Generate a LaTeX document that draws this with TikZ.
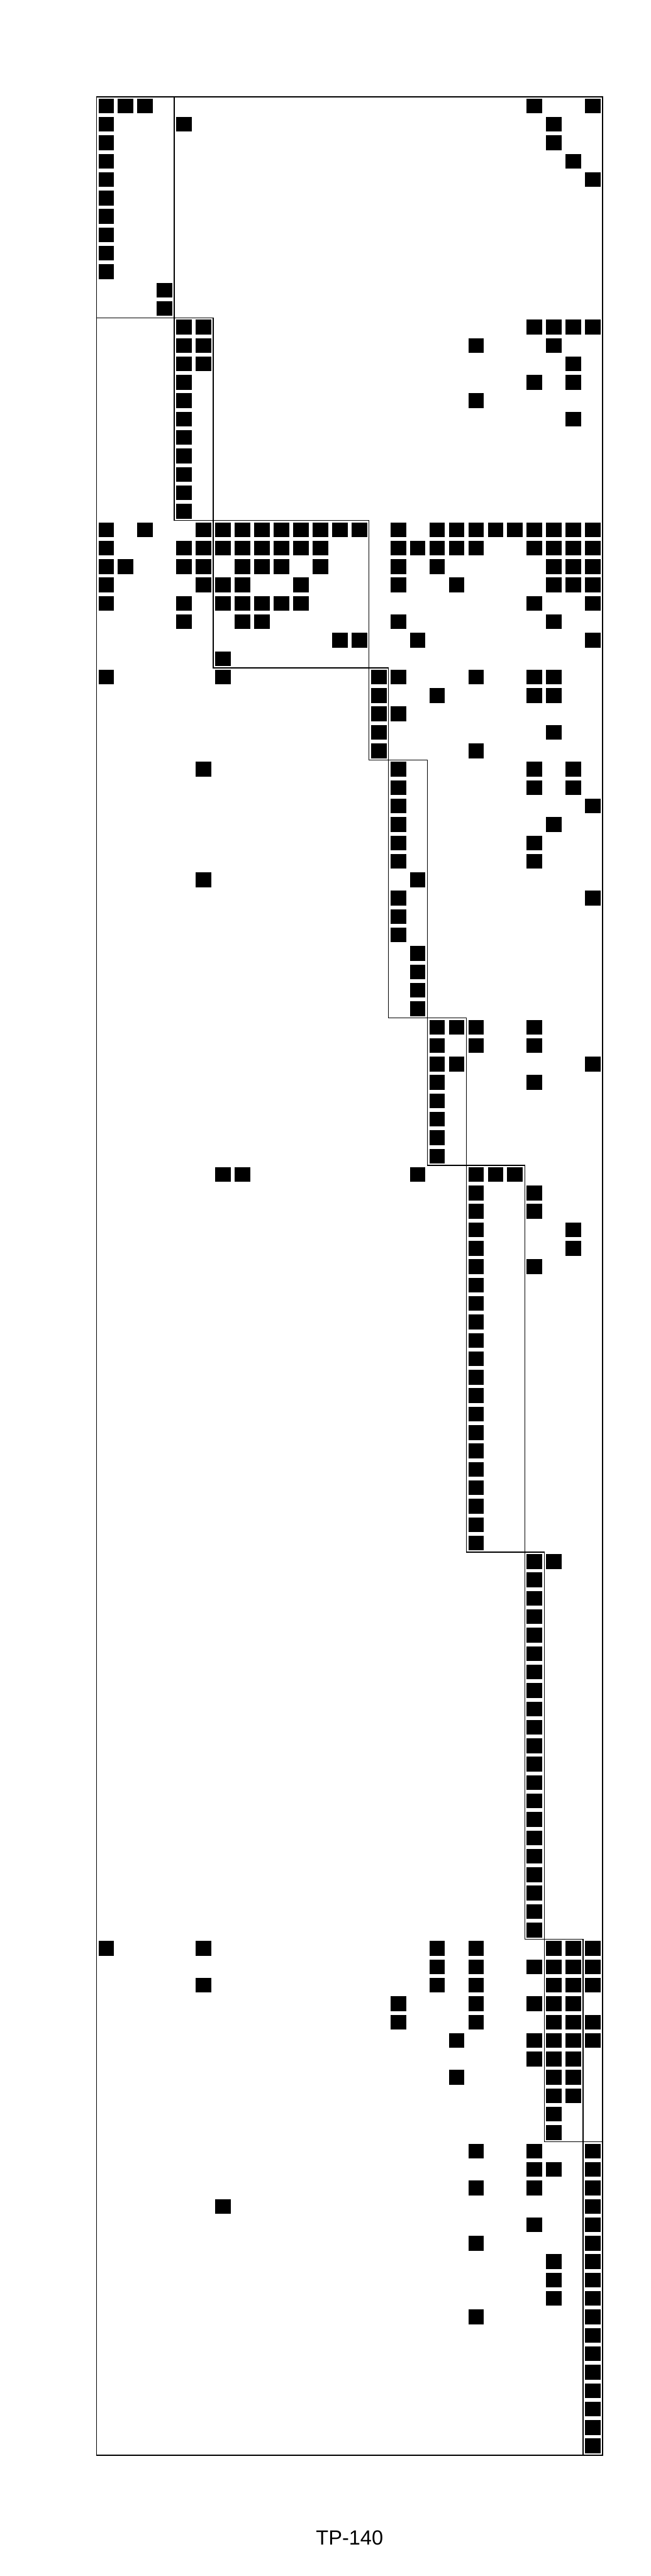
\documentclass[tikz,border=0pt]{standalone}
\usepackage{fontspec}
\setmainfont{Liberation Sans}

\begin{document}
\begin{tikzpicture}[
    x=12.365pt, y=-11.705pt,
    nz/.style={fill=black},
    blk/.style={draw=black, line width=0.6pt},
    frame/.style={draw=black, line width=0.7pt},
]
\useasboundingbox (-4.958,-5.248) rectangle (28.463,134.563);

% nonzero entries: row / columns
\foreach \row/\cols in {
    0/{0,1,2,22,25}, 1/{0,4,23}, 2/{0,23}, 3/{0,24}, 4/{0,25},
    10/3, 11/3,
    12/{4,5,22,23,24,25}, 13/{4,5,19,23}, 14/{4,5,24}, 15/{4,22,24},
    16/{4,19}, 17/{4,24},
    23/{0,2,5,6,7,8,9,10,11,12,13,15,17,18,19,20,21,22,23,24,25},
    24/{0,4,5,6,7,8,9,10,11,15,16,17,18,19,22,23,24,25},
    25/{0,1,4,5,7,8,9,11,15,17,23,24,25},
    26/{0,5,6,7,10,15,18,23,24,25},
    27/{0,4,6,7,8,9,10,22,25},
    28/{4,7,8,15,23}, 29/{12,13,16,25}, 30/6,
    31/{0,6,14,15,19,22,23}, 32/{14,17,22,23}, 33/{14,15}, 34/{14,23},
    35/{14,19}, 36/{5,15,22,24}, 37/{15,22,24}, 38/{15,25}, 39/{15,23},
    40/{15,22}, 41/{15,22}, 42/{5,16}, 43/{15,25}, 44/15, 45/15,
    50/{17,18,19,22}, 51/{17,19,22}, 52/{17,18,25}, 53/{17,22},
    58/{6,7,16,19,20,21}, 59/{19,22}, 60/{19,22}, 61/{19,24}, 62/{19,24},
    63/{19,22}, 79/{22,23},
    100/{0,5,17,19,23,24,25}, 101/{17,19,22,23,24,25},
    102/{5,17,19,23,24,25}, 103/{15,19,22,23,24}, 104/{15,19,23,24,25},
    105/{18,22,23,24,25}, 106/{22,23,24}, 107/{18,23,24}, 108/{23,24},
    109/23, 110/23, 111/{19,22,25}, 112/{22,23,25}, 113/{19,22,25},
    114/{6,25}, 115/{22,25}, 116/{19,25}, 117/{23,25}, 118/{23,25},
    119/{23,25}, 120/{19,25}} {
    \foreach \col in \cols
        \fill[nz] (\col+0.1,\row+0.1) rectangle (\col+0.9,\row+0.9);
}

% runs down a single column: column / first row / last row
\foreach \col/\ra/\rb in {0/5/9, 4/18/22, 16/46/49, 17/54/57, 19/64/78, 22/80/99, 25/121/127} {
    \foreach \row in {\ra,...,\rb}
        \fill[nz] (\col+0.1,\row+0.1) rectangle (\col+0.9,\row+0.9);
}

% diagonal blocks
\foreach \ca/\ra/\cb/\rb in {0/0/4/12, 4/12/6/23, 6/23/14/31, 14/31/15/36, 15/36/17/50,
    17/50/19/58, 19/58/22/79, 22/79/23/100, 23/100/25/111, 25/111/26/128}
    \draw[blk] (\ca,\ra) rectangle (\cb,\rb);

\draw[frame] (0,0) rectangle (26,128);

\node[font=\fontsize{13}{15.6}\selectfont] (title) at (13,132.5) {TP-140};

\end{tikzpicture}
\end{document}
